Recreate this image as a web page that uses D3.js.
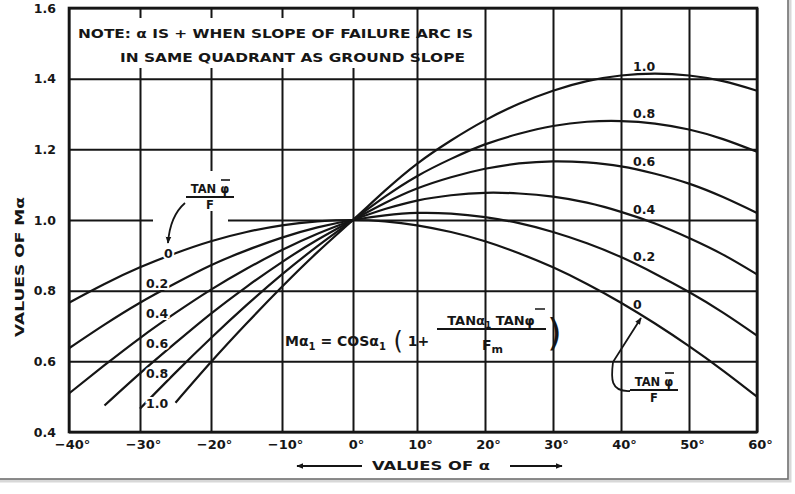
<!DOCTYPE html>
<html>
<head>
<meta charset="utf-8">
<script src="https://cdn.jsdelivr.net/npm/d3@7"></script>
<style>
  body { margin: 0; background: #fff; }
  svg { display: block; }
  text { font-family: "DejaVu Sans", sans-serif; font-weight: bold; fill: #161616; }
</style>
</head>
<body>
<script>
'use strict';

// angle of the failure arc, degrees
var alphaDeg = [-40, -35, -30, -25, -20, -15, -10, -5, 0, 5, 10, 15, 20, 25, 30, 35, 40, 45, 50, 55, 60];

var xTicks = [-40, -30, -20, -10, 0, 10, 20, 30, 40, 50, 60];
var yTicks = [0.4, 0.6, 0.8, 1.0, 1.2, 1.4, 1.6];

// curve labels, value of TAN phi / F
var ratioLabels = ['0', '0.2', '0.4', '0.6', '0.8', '1.0'];

// values of M alpha
var mRatio00 = [0.766, 0.819, 0.866, 0.906, 0.940, 0.966, 0.985, 0.996, 1.000, 0.996, 0.985, 0.966, 0.940, 0.906, 0.866, 0.819, 0.766, 0.707, 0.643, 0.574, 0.500];
var mRatio02 = [0.637, 0.704, 0.766, 0.821, 0.872, 0.914, 0.950, 0.979, 1.000, 1.013, 1.020, 1.018, 1.008, 0.991, 0.966, 0.934, 0.895, 0.848, 0.796, 0.738, 0.673];
var mRatio04 = [0.509, 0.589, 0.666, 0.737, 0.803, 0.862, 0.915, 0.961, 1.000, 1.031, 1.055, 1.070, 1.077, 1.075, 1.066, 1.049, 1.023, 0.990, 0.949, 0.902, 0.846];
var mRatio06 = [null, 0.475, 0.566, 0.652, 0.735, 0.811, 0.881, 0.944, 1.000, 1.048, 1.089, 1.121, 1.145, 1.160, 1.166, 1.163, 1.152, 1.131, 1.103, 1.065, 1.020];
var mRatio08 = [null, null, 0.466, 0.568, 0.666, 0.759, 0.846, 0.926, 1.000, 1.066, 1.124, 1.173, 1.214, 1.244, 1.266, 1.278, 1.280, 1.273, 1.256, 1.229, 1.193];
var mRatio10 = [null, null, null, 0.483, 0.598, 0.707, 0.811, 0.909, 1.000, 1.083, 1.159, 1.225, 1.282, 1.329, 1.366, 1.393, 1.409, 1.414, 1.409, 1.393, 1.366];

var curves = [mRatio00, mRatio02, mRatio04, mRatio06, mRatio08, mRatio10];

var width = 795, height = 494, ink = '#151515';

var svg = d3.select('body').append('svg')
    .attr('width', width)
    .attr('height', height);

// the scan is not quite even, so the x scale is bent at 0 and 10
var x = d3.scaleLinear().domain([-40, 0, 10, 60]).range([69, 353, 417, 757]);
var y = d3.scaleLinear().domain([0.4, 1.6]).range([432, 8]);

function minusDeg(d) {
  return (d < 0 ? '\u2212' + (-d) : d) + '\u00b0';
}

// frame of the figure with its shadow
svg.append('rect')
    .attr('x', -6).attr('y', -6).attr('width', 796).attr('height', 487)
    .attr('fill', 'none').attr('stroke', '#d8d8d8').attr('stroke-width', 3);
svg.append('rect')
    .attr('x', -8).attr('y', -8).attr('width', 796).attr('height', 487)
    .attr('fill', '#fff').attr('stroke', '#6e6e6e').attr('stroke-width', 1.6);

// horizontal grid + y tick labels
var gridY = svg.append('g')
    .attr('transform', 'translate(' + x(-40) + ',0)')
    .call(d3.axisLeft(y).tickValues(yTicks).tickSize(-(x(60) - x(-40))).tickPadding(13).tickFormat(d3.format('.1f')))
    .attr('font-family', null).attr('font-size', null);
gridY.select('.domain').remove();
gridY.selectAll('line').attr('stroke', ink).attr('stroke-width', 2);
gridY.selectAll('text').attr('font-size', 12.5).attr('fill', ink);

// the 1.0 line stops under the left TAN phi / F note
svg.append('rect')
    .attr('x', 153).attr('y', y(1.0) - 3).attr('width', 75).attr('height', 6)
    .attr('fill', '#fff');

// vertical grid + x tick labels
var gridX = svg.append('g')
    .attr('transform', 'translate(0,' + y(0.4) + ')')
    .call(d3.axisBottom(x).tickValues(xTicks).tickSize(-(y(0.4) - y(1.6))).tickPadding(8).tickFormat(minusDeg))
    .attr('font-family', null).attr('font-size', null);
gridX.select('.domain').remove();
gridX.selectAll('line').attr('stroke', ink).attr('stroke-width', 2);
gridX.selectAll('text').attr('font-size', 13).attr('fill', ink).attr('dx', 3);

// blank areas behind the notes
svg.append('rect').attr('x', 72).attr('y', 18).attr('width', 339).attr('height', 50).attr('fill', '#fff');
svg.append('rect').attr('x', 186).attr('y', 171).attr('width', 54).attr('height', 40).attr('fill', '#fff');

svg.append('rect')
    .attr('x', x(-40)).attr('y', y(1.6))
    .attr('width', x(60) - x(-40)).attr('height', y(0.4) - y(1.6))
    .attr('fill', 'none').attr('stroke', ink).attr('stroke-width', 2.6);

var line = d3.line()
    .defined(function (d) { return d[1] != null; })
    .x(function (d) { return x(d[0]); })
    .y(function (d) { return y(d[1]); })
    .curve(d3.curveNatural);

svg.append('g').selectAll('path')
    .data(curves)
  .enter().append('path')
    .attr('d', function (d) { return line(d3.zip(alphaDeg, d)); })
    .attr('fill', 'none')
    .attr('stroke', ink)
    .attr('stroke-width', 2.2);

// labels on the right, just above each curve near 42 deg
var i40 = alphaDeg.indexOf(40), i25 = alphaDeg.indexOf(-25);
svg.append('g').selectAll('text')
    .data(curves)
  .enter().append('text')
    .attr('x', x(40) + 12)
    .attr('y', function (d) { return y((d[i40] + d[i40 + 1]) / 2) - 4; })
    .attr('font-size', 12.5)
    .text(function (d, i) { return ratioLabels[i]; });

// labels on the left
svg.append('g').selectAll('text')
    .data(curves)
  .enter().append('text')
    .attr('x', function (d, i) { return i === 0 ? x(-26) : x(-27.6); })
    .attr('y', function (d) { return y(d[i25]) + 5; })
    .attr('text-anchor', 'middle')
    .attr('font-size', 12.5)
    .attr('stroke', '#fff').attr('stroke-width', 4).attr('paint-order', 'stroke')
    .text(function (d, i) { return ratioLabels[i]; });

// note box
svg.append('text').attr('x', 78).attr('y', 38).attr('font-size', 12)
    .attr('textLength', 395).attr('lengthAdjust', 'spacingAndGlyphs')
    .text('NOTE: \u03b1 IS + WHEN SLOPE OF FAILURE ARC IS');
svg.append('text').attr('x', 120).attr('y', 62).attr('font-size', 12)
    .attr('textLength', 345).attr('lengthAdjust', 'spacingAndGlyphs')
    .text('IN SAME QUADRANT AS GROUND SLOPE');

// axis titles
svg.append('text')
    .attr('transform', 'translate(24,267) rotate(-90)')
    .attr('text-anchor', 'middle').attr('font-size', 12.5)
    .attr('textLength', 140).attr('lengthAdjust', 'spacingAndGlyphs')
    .text('VALUES OF M\u03b1');
svg.append('text')
    .attr('x', 431).attr('y', 470)
    .attr('text-anchor', 'middle').attr('font-size', 12.5)
    .attr('textLength', 118).attr('lengthAdjust', 'spacingAndGlyphs')
    .text('VALUES OF \u03b1');

var defs = svg.append('defs');
defs.append('marker')
    .attr('id', 'head').attr('viewBox', '0 0 10 10')
    .attr('refX', 9).attr('refY', 5)
    .attr('markerWidth', 7).attr('markerHeight', 7)
    .attr('markerUnits', 'userSpaceOnUse')
    .attr('orient', 'auto')
  .append('path').attr('d', 'M0,1 L10,5 L0,9 Z').attr('fill', ink);

svg.append('path').attr('d', 'M362,466 L297,466')
    .attr('stroke', ink).attr('stroke-width', 1.8).attr('marker-end', 'url(#head)');
svg.append('path').attr('d', 'M510,466 L562,466')
    .attr('stroke', ink).attr('stroke-width', 1.8).attr('marker-end', 'url(#head)');

// TAN phi / F notes with their arrows
function ratioNote(cx, top) {
  var g = svg.append('g');
  g.append('text').attr('x', cx).attr('y', top).attr('text-anchor', 'middle').attr('font-size', 11.5)
      .text('TAN \u03c6');
  g.append('line').attr('x1', cx + 11).attr('x2', cx + 20).attr('y1', top - 13).attr('y2', top - 13)
      .attr('stroke', ink).attr('stroke-width', 1.6);
  g.append('line').attr('x1', cx - 24).attr('x2', cx + 24).attr('y1', top + 4).attr('y2', top + 4)
      .attr('stroke', ink).attr('stroke-width', 1.8);
  g.append('text').attr('x', cx).attr('y', top + 16).attr('text-anchor', 'middle').attr('font-size', 11.5)
      .text('F');
}
ratioNote(210, 193);
ratioNote(654, 386);

svg.append('path').attr('d', 'M185,203 Q170,216 168,243')
    .attr('fill', 'none').attr('stroke', ink).attr('stroke-width', 1.8).attr('marker-end', 'url(#head)');
svg.append('path').attr('d', 'M630,391 C610,392 611,378 613,362 L641,318')
    .attr('fill', 'none').attr('stroke', ink).attr('stroke-width', 1.8).attr('marker-end', 'url(#head)');

// formula
var formula = svg.append('text').attr('x', 285).attr('y', 346).attr('font-size', 14);
formula.append('tspan').text('M\u03b1');
formula.append('tspan').attr('font-size', 10).attr('dy', 4).text('1');
formula.append('tspan').attr('dy', -4).text(' = COS\u03b1');
formula.append('tspan').attr('font-size', 10).attr('dy', 4).text('1');
formula.append('tspan').attr('dy', -1).attr('font-size', 24).style('font-weight', 'normal').text(' (');
formula.append('tspan').attr('dy', -3).text(' 1+');

var num = svg.append('text').attr('x', 491).attr('y', 325).attr('text-anchor', 'middle').attr('font-size', 13);
num.append('tspan').text('TAN\u03b1');
num.append('tspan').attr('font-size', 9).attr('dy', 3).text('1');
num.append('tspan').attr('dy', -3).text(' TAN\u03c6');
svg.append('line').attr('x1', 437).attr('x2', 546).attr('y1', 329).attr('y2', 329)
    .attr('stroke', ink).attr('stroke-width', 1.8);
svg.append('line').attr('x1', 535).attr('x2', 545).attr('y1', 309).attr('y2', 309)
    .attr('stroke', ink).attr('stroke-width', 1.5);
var den = svg.append('text').attr('x', 482).attr('y', 350).attr('font-size', 14);
den.append('tspan').text('F');
den.append('tspan').attr('font-size', 11).attr('dy', 3).text('m');
svg.append('text').attr('x', 547).attr('y', 345).attr('font-size', 38)
    .style('font-weight', 'normal').text(')');
</script>
</body>
</html>
